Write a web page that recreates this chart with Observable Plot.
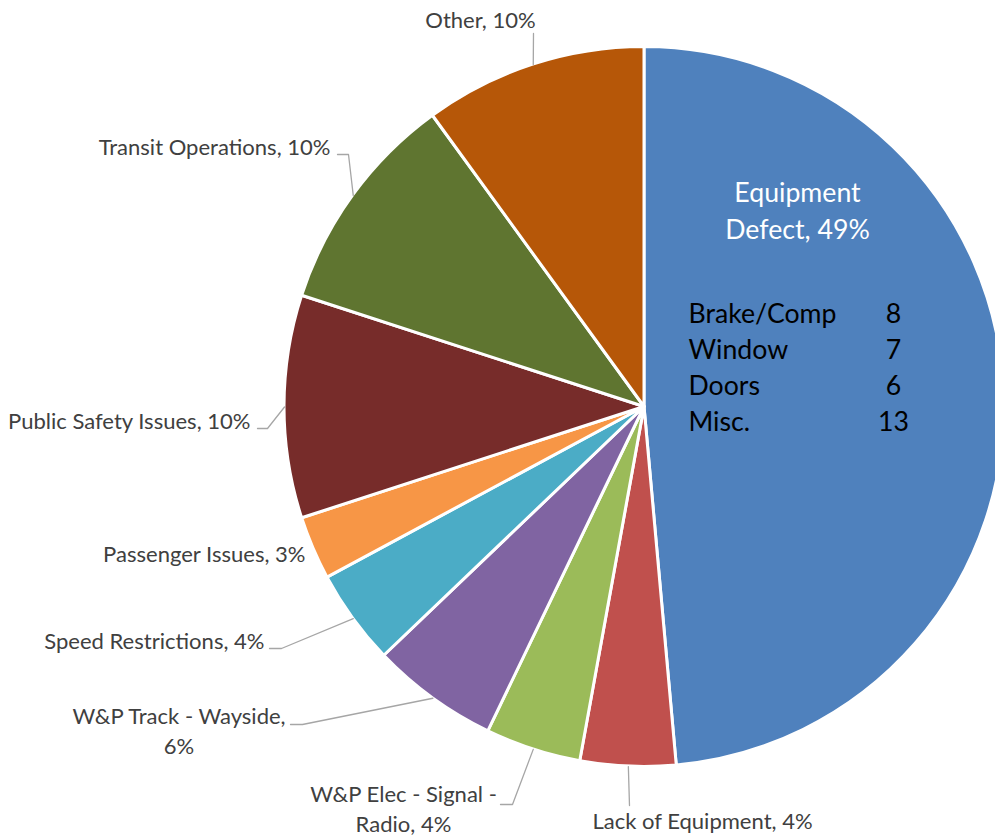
<!DOCTYPE html>
<html>
<head>
<meta charset="utf-8">
<script src="https://cdn.jsdelivr.net/npm/d3@7"></script>
<script src="https://cdn.jsdelivr.net/npm/@observablehq/plot@0.6"></script>
<style>
html, body { margin: 0; padding: 0; background: #fff; overflow: hidden; }
</style>
</head>
<body>
<div id="chart"></div>
<script>
// ---- data ----
const categories = [
  "Equipment Defect",
  "Lack of Equipment",
  "W&P Elec - Signal - Radio",
  "W&P Track - Wayside",
  "Speed Restrictions",
  "Passenger Issues",
  "Public Safety Issues",
  "Transit Operations",
  "Other"
];
const counts = [34, 3, 3, 4, 3, 2, 7, 7, 7];
const sliceColors = ["#4F81BD", "#C0504D", "#9BBB59", "#8064A2", "#4BACC6", "#F79646", "#772C2A", "#5F7530", "#B65708"];
const breakdownItems = ["Brake/Comp", "Window", "Doors", "Misc."];
const breakdownCounts = [8, 7, 6, 13];

// ---- layout ----
const W = 995, H = 836, CX = 644, CY = 406.5, R = 360;
const FONT = "Lato, 'Open Sans', sans-serif";
// label placement, pixel offsets from the pie centre
const labelLayout = [
  {anchor: "middle", at: [153, -198], breakAfter: "Equipment", inside: true},
  {anchor: "middle", at: [58, 412.5], leader: [[-15, 398.5]]},
  {anchor: "middle", at: [-241, 400], breakAfter: "Signal -", leader: [[-132, 397.5], [-144, 397.5]]},
  {anchor: "middle", at: [-465.5, 322.5], breakAfter: "Wayside,", leader: [[-342, 317.5], [-354, 317.5]]},
  {anchor: "end", at: [-380, 232.5], leader: [[-363, 241.5], [-375, 241.5]]},
  {anchor: "end", at: [-339, 145.5]},
  {anchor: "end", at: [-394, 12.5], leader: [[-377, 21.5], [-387, 21.5]]},
  {anchor: "end", at: [-314, -261.5], leader: [[-296, -252.5], [-307, -252.5]]},
  {anchor: "middle", at: [-164, -388.5], leader: [[-111, -373.5]]}
];
const breakdownLayout = {nameX: 44, countX: 249, firstY: -92.5, step: 36};

// font sizes fitted to the reference text widths
const ctx = document.createElement("canvas").getContext("2d");
function widthAt100(s) { ctx.font = `100px ${FONT}`; return ctx.measureText(s).width; }
const outerSize = 100 * 232 / widthAt100("Transit Operations, 10%");
const innerSize = 100 * 148 / widthAt100("Brake/Comp");

// ---- derived ----
const total = d3.sum(counts);
const pct = counts.map(c => Math.round(c / total * 100) + "%");
const pie = d3.pie().sort(null).value(d => d.count).startAngle(0).endAngle(2 * Math.PI);
const slices = pie(categories.map((c, i) => ({category: c, count: counts[i], color: sliceColors[i]})));

const toData = ([px, py]) => ({x: px / R, y: -py / R});

const labels = slices.map((s, i) => {
  const L = labelLayout[i];
  let text = `${categories[i]}, ${pct[i]}`;
  if (L.breakAfter) text = text.replace(L.breakAfter + " ", L.breakAfter + "\n");
  const p = toData(L.at);
  return {text, anchor: L.anchor, inside: !!L.inside, x: p.x, y: p.y};
});

// leader lines start on the rim at each slice's mid-angle
const leaders = [];
slices.forEach((s, i) => {
  const L = labelLayout[i];
  if (!L.leader) return;
  const a = (s.startAngle + s.endAngle) / 2;
  leaders.push({id: i, x: Math.sin(a), y: Math.cos(a)});
  L.leader.forEach(pt => { const p = toData(pt); leaders.push({id: i, x: p.x, y: p.y}); });
});

const breakdown = breakdownItems.map((name, i) => ({
  name, count: String(breakdownCounts[i]),
  xName: breakdownLayout.nameX / R,
  xCount: breakdownLayout.countX / R,
  y: -(breakdownLayout.firstY + i * breakdownLayout.step) / R
}));

function pieSlices(index, scales) {
  const x0 = scales.x(0), y0 = scales.y(0), r = scales.x(1) - scales.x(0);
  const arc = d3.arc().innerRadius(0).outerRadius(r);
  const g = d3.create("svg:g").attr("transform", `translate(${x0},${y0})`);
  g.selectAll("path").data(slices).join("path")
    .attr("d", arc)
    .attr("fill", d => d.data.color)
    .attr("stroke", "#fff")
    .attr("stroke-width", 3)
    .attr("stroke-linejoin", "round");
  return g.node();
}

const chart = Plot.plot({
  width: W,
  height: H,
  margin: 0,
  x: {domain: [-1, 1], range: [CX - R, CX + R], axis: null},
  y: {domain: [-1, 1], range: [CY + R, CY - R], axis: null},
  style: {fontFamily: FONT, overflow: "hidden", background: "#fff"},
  marks: [
    pieSlices,
    Plot.line(leaders, {x: "x", y: "y", z: "id", stroke: "#A6A6A6", strokeWidth: 1.3, curve: "linear"}),
    Plot.text(labels.filter(d => !d.inside && d.anchor === "end"), {
      x: "x", y: "y", text: "text", textAnchor: "end", fill: "#404040",
      fontSize: outerSize, lineHeight: 30 / outerSize
    }),
    Plot.text(labels.filter(d => !d.inside && d.anchor === "middle"), {
      x: "x", y: "y", text: "text", textAnchor: "middle", fill: "#404040",
      fontSize: outerSize, lineHeight: 30 / outerSize
    }),
    Plot.text(labels.filter(d => d.inside), {
      x: "x", y: "y", text: "text", textAnchor: "middle", fill: "#FFFFFF",
      fontSize: innerSize, lineHeight: 36.7 / innerSize
    }),
    Plot.text(breakdown, {x: "xName", y: "y", text: "name", textAnchor: "start", fill: "#000", fontSize: innerSize}),
    Plot.text(breakdown, {x: "xCount", y: "y", text: "count", textAnchor: "middle", fill: "#000", fontSize: innerSize})
  ]
});
document.getElementById("chart").appendChild(chart);
</script>
</body>
</html>
